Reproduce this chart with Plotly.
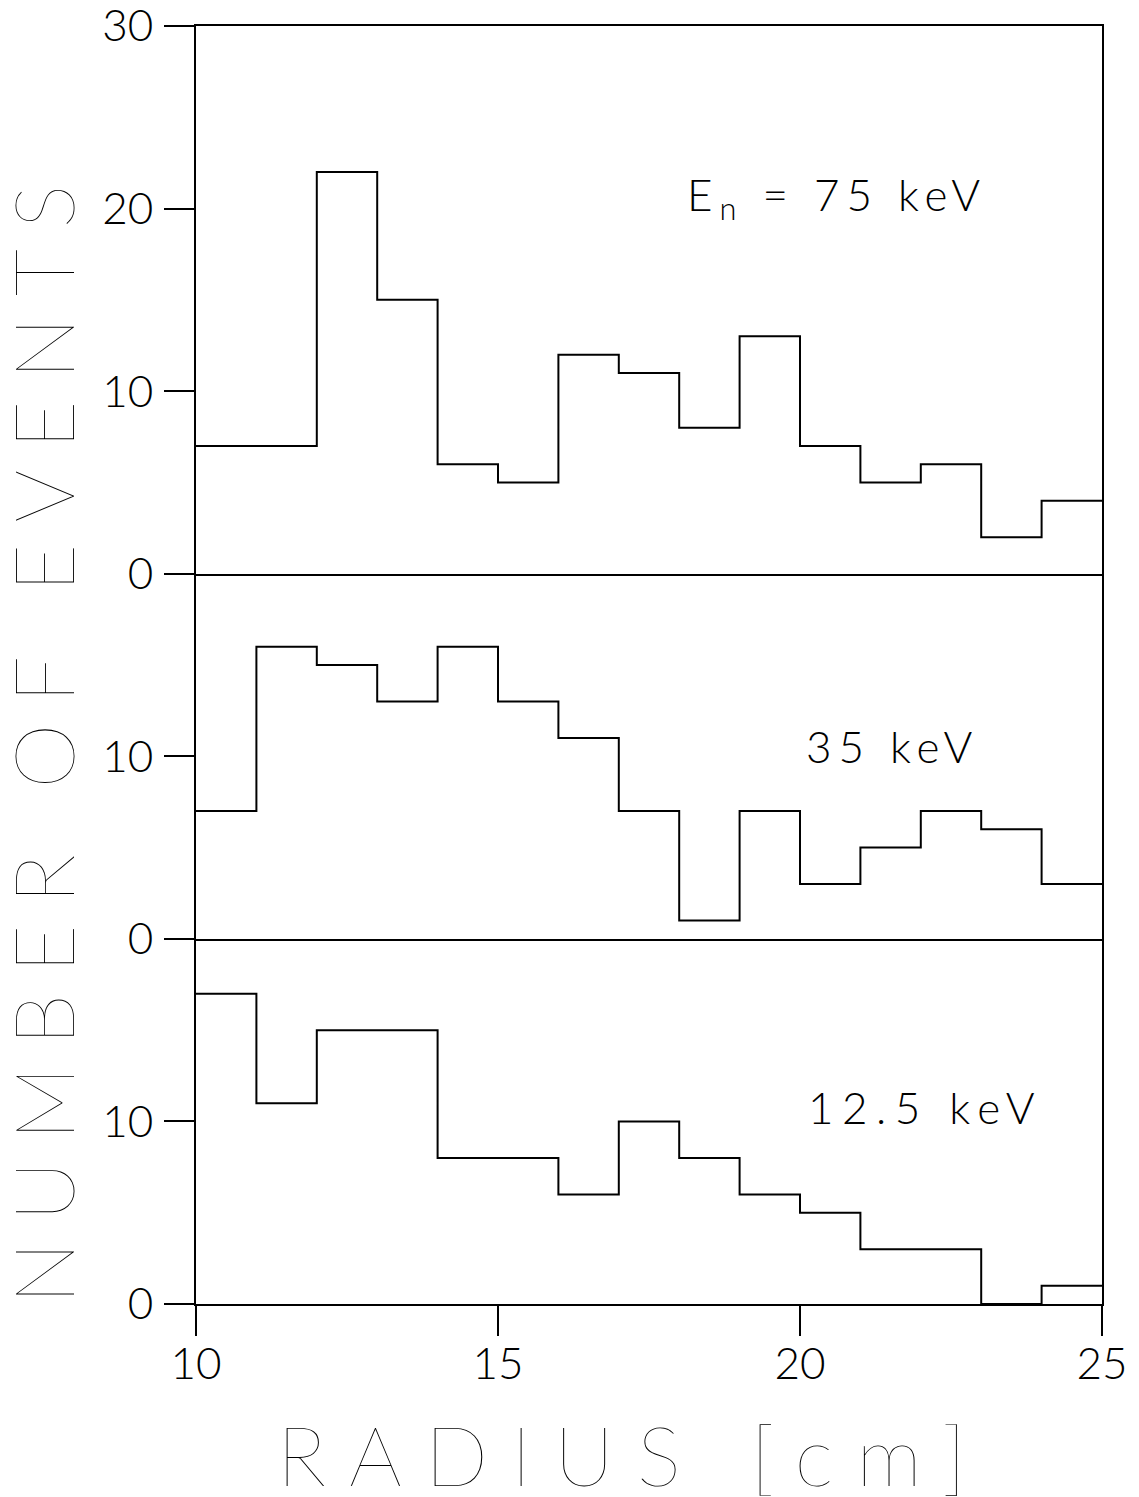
import plotly.graph_objects as go

# ---- data ----
radius_edges = [10, 11, 12, 13, 14, 15, 16, 17, 18, 19, 20, 21, 22, 23, 24, 25]
counts_75keV = [7, 7, 22, 15, 6, 5, 12, 11, 8, 13, 7, 5, 6, 2, 4]
counts_35keV = [7, 16, 15, 13, 16, 13, 11, 7, 1, 7, 3, 5, 7, 6, 3]
counts_12_5keV = [17, 11, 15, 15, 8, 8, 6, 10, 8, 6, 5, 3, 3, 0, 1]
x_ticks = [10, 15, 20, 25]
y_ticks_small = [0, 10]
y_ticks_top = [0, 10, 20, 30]
labels = ["E<sub>n</sub> = 75 keV", "35 keV", "12.5 keV"]

FONT = "Lato"
LW = 2

fig = go.Figure()

def step(counts, xa, ya):
    fig.add_trace(go.Scatter(
        x=radius_edges, y=counts + counts[-1:], mode="lines",
        line=dict(shape="hv", color="black", width=LW),
        xaxis=xa, yaxis=ya, showlegend=False, hoverinfo="skip"))

step(counts_12_5keV, "x", "y")
step(counts_35keV, "x2", "y2")
step(counts_75keV, "x3", "y3")

tickfont = dict(family=FONT, size=44, color="black", weight=300)

xcommon = dict(range=[10, 25], showgrid=False, zeroline=False, showline=True,
               linecolor="black", linewidth=LW, automargin=False)
ycommon = dict(showgrid=False, zeroline=False, showline=True, mirror=True,
               linecolor="black", linewidth=LW, ticks="outside", ticklen=30,
               tickwidth=LW, tickcolor="black", tickfont=tickfont,
               ticklabelstandoff=2, automargin=False,
               ticklabeloverflow="allow")

h = 70.0
# page body has an 8px default margin, compensated here
fig.update_layout(
    width=1139, height=1497,
    margin=dict(l=188, r=45, t=18, b=201, autoexpand=False),
    paper_bgcolor="white", plot_bgcolor="white",
    xaxis=dict(**xcommon, anchor="y", ticks="outside", ticklen=30, tickwidth=LW,
               tickcolor="black", tickvals=x_ticks, tickfont=tickfont,
               ticklabelstandoff=-10, ticklabeloverflow="allow"),
    xaxis2=dict(**xcommon, anchor="y2", matches="x", showticklabels=False),
    xaxis3=dict(**xcommon, anchor="y3", matches="x", showticklabels=False, mirror=True),
    yaxis=dict(**ycommon, anchor="x", domain=[0, 20 / h], range=[0, 20], tickvals=y_ticks_small),
    yaxis2=dict(**ycommon, anchor="x2", domain=[20 / h, 40 / h], range=[0, 20], tickvals=y_ticks_small),
    yaxis3=dict(**ycommon, anchor="x3", domain=[40 / h, 1], range=[0, 30], tickvals=y_ticks_top),
)

annfont = dict(family=FONT, size=44, color="black", weight=300)
fig.add_annotation(text=labels[0], xref="x3", yref="y3", x=18.1, y=20.6,
                   xanchor="left", yanchor="middle", align="left",
                   showarrow=False, font=annfont)
fig.add_annotation(text=labels[1], xref="x2", yref="y2", x=20.06, y=10.56,
                   xanchor="left", yanchor="middle", align="left",
                   showarrow=False, font=annfont)
fig.add_annotation(text=labels[2], xref="x", yref="y", x=20.1, y=10.78,
                   xanchor="left", yanchor="middle", align="left",
                   showarrow=False, font=annfont)

titlefont = dict(family=FONT, size=83, color="black", weight=200)
fig.add_annotation(text="RADIUS [cm]", xref="paper", yref="paper",
                   x=(275 - 196) / 906, y=(1304 - 1454) / 1278,
                   xanchor="left", yanchor="middle", align="left",
                   showarrow=False, font=titlefont)
fig.add_annotation(text="NUMBER OF EVENTS", xref="paper", yref="paper",
                   x=(42 - 196) / 906, y=(1304 - 1306) / 1278, textangle=-90,
                   xanchor="center", yanchor="bottom", align="left",
                   showarrow=False, font=titlefont)

post = """
var gd = document.getElementById('{plot_id}');
gd.querySelectorAll('text.annotation-text').forEach(function(t){
  var s = t.textContent;
  if (s.indexOf('RADIUS') >= 0) { t.style.letterSpacing = '23px'; }
  else if (s.indexOf('NUMBER') >= 0) { t.style.letterSpacing = '21px'; }
  else if (s.indexOf('12.5') >= 0) { t.style.letterSpacing = '8.5px'; }
  else { t.style.letterSpacing = '7px'; }
});
"""

fig.write_html("out.html", post_script=post)
